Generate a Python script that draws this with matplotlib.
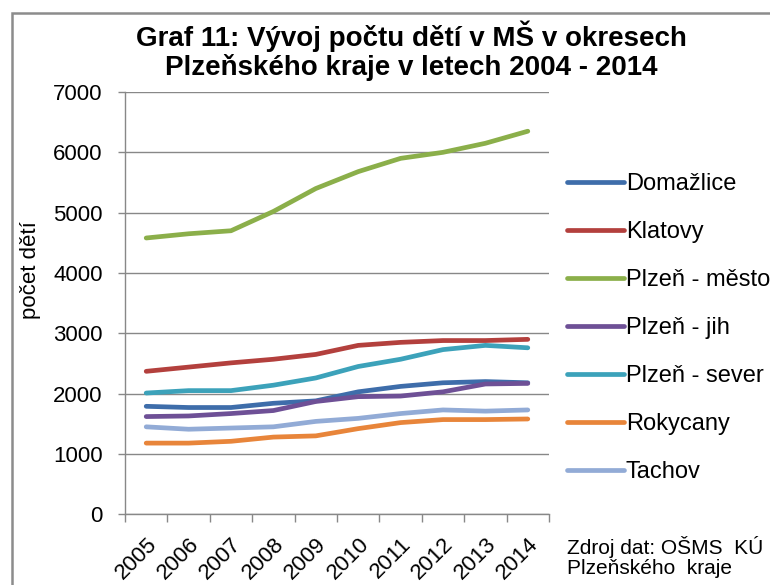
import matplotlib
matplotlib.use('Agg')
import matplotlib.pyplot as plt
import matplotlib.transforms as mtransforms
from matplotlib.patches import Rectangle

plt.rcParams['font.family'] = ['Liberation Sans', 'DejaVu Sans']

years = ['2005', '2006', '2007', '2008', '2009', '2010', '2011', '2012', '2013', '2014']

domazlice = [1790, 1770, 1770, 1840, 1880, 2030, 2120, 2180, 2200, 2180]
klatovy = [2370, 2440, 2510, 2570, 2650, 2800, 2850, 2880, 2880, 2900]
plzen_mesto = [4580, 4650, 4700, 5020, 5400, 5680, 5900, 6000, 6150, 6350]
plzen_jih = [1620, 1630, 1670, 1720, 1870, 1950, 1960, 2030, 2160, 2170]
plzen_sever = [2010, 2050, 2050, 2140, 2260, 2450, 2570, 2730, 2800, 2760]
rokycany = [1180, 1180, 1210, 1280, 1300, 1420, 1520, 1570, 1570, 1580]
tachov = [1450, 1410, 1430, 1450, 1540, 1590, 1670, 1730, 1710, 1730]

series = [
    ('Domažlice', domazlice, '#3E6DAA'),
    ('Klatovy', klatovy, '#B3403D'),
    ('Plzeň - město', plzen_mesto, '#8BAF4A'),
    ('Plzeň - jih', plzen_jih, '#6E5096'),
    ('Plzeň - sever', plzen_sever, '#3CA2BA'),
    ('Rokycany', rokycany, '#E8853A'),
    ('Tachov', tachov, '#92ABD6'),
]

grey = '#888888'

fig = plt.figure(figsize=(7.7, 5.85), dpi=100)

# outer frame of the chart
fig.patches.append(Rectangle((12 / 770, -0.1), 1.2, (585 - 13) / 585 + 0.1,
                             transform=fig.transFigure, fill=False,
                             edgecolor='#8c8c8c', linewidth=1.8))

ax = fig.add_axes([125 / 770, (585 - 514.3) / 585, 424 / 770, 422.3 / 585])

x = list(range(len(years)))
for name, vals, col in series:
    ax.plot(x, vals, color=col, linewidth=3.4, label=name, solid_capstyle='round')

ax.set_xlim(-0.5, len(years) - 0.5)
ax.set_ylim(0, 7000)
ax.set_yticks(range(0, 7001, 1000))
ax.yaxis.grid(True, color=grey, linewidth=1.0)
ax.set_axisbelow(True)

ax.set_xticks(x)
ax.set_xticks([i - 0.5 for i in range(len(years) + 1)], minor=True)
ax.set_xticklabels(years, rotation=45, ha='right', va='top',
                   rotation_mode='anchor', fontsize=16)
offset = mtransforms.ScaledTranslation(0.04, 0, fig.dpi_scale_trans)
for lab in ax.get_xticklabels():
    lab.set_transform(lab.get_transform() + offset)
ax.tick_params(axis='x', which='major', length=0, pad=14)
ax.tick_params(axis='x', which='minor', length=6, color=grey, width=1.0)
ax.tick_params(axis='y', length=5, color=grey, width=1.0, labelsize=16, pad=11)

for s in ['top', 'right']:
    ax.spines[s].set_visible(False)
for s in ['left', 'bottom']:
    ax.spines[s].set_color(grey)
    ax.spines[s].set_linewidth(1.0)

ax.set_ylabel('počet dětí', fontsize=16)
ax.yaxis.set_label_coords(-0.197, 0.578)

fig.text(0.534, 1 - 50.5 / 585,
         'Graf 11: Vývoj počtu dětí v MŠ v okresech\nPlzeňského kraje v letech 2004 - 2014',
         ha='center', va='center', fontsize=20, fontweight='bold', linespacing=1.1)

ax.legend(loc='upper left', bbox_to_anchor=(1.02, 0.83), frameon=False,
          fontsize=17, handlelength=2.4, handletextpad=0.1,
          labelspacing=1.1, borderaxespad=0)

fig.text(567 / 770, 1 - 557 / 585, 'Zdroj dat: OŠMS  KÚ\nPlzeňského  kraje',
         ha='left', va='center', fontsize=15, linespacing=1.05)

fig.savefig('out.png', dpi=100)
